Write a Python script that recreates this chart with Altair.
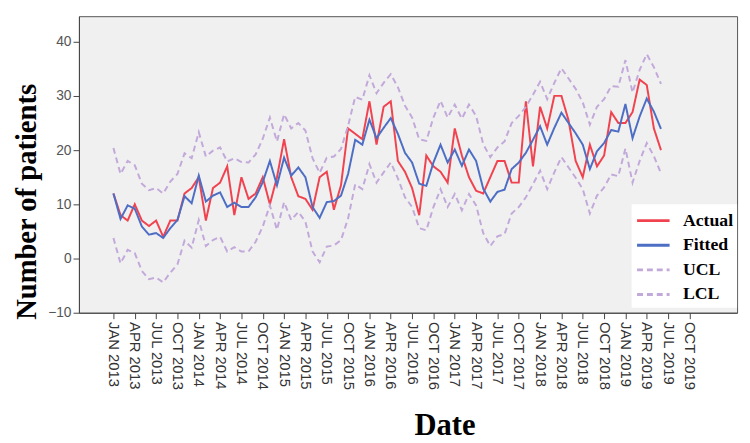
import altair as alt
import pandas as pd

# month index 0 = JAN 2013 ... 77 = JUN 2019
actual = [12, 8, 7, 10, 7, 6, 7, 4, 7, 7,
          12, 13, 15, 7, 13, 14, 17, 8, 15, 11,
          12, 15, 10, 15, 22, 15, 11.5, 11, 9, 15,
          16, 9, 13.5, 24, 23, 22, 29, 21, 28, 29,
          18, 16, 13, 8, 19, 17, 16, 14, 24, 19,
          15, 12.5, 12, 15, 18, 18, 14, 14, 29, 17,
          28, 24, 30, 30, 25.5, 18, 15, 21, 17, 19,
          27, 25, 25, 27, 33, 32, 24, 20]
fitted = [12, 7.3, 9.8, 9.2, 5.9, 4.4, 4.7, 3.8, 5.6, 7.1,
          11.5, 10.2, 15.3, 10.5, 11.6, 12.2, 9.5, 10.3, 9.5, 9.5,
          11.3, 14.1, 18, 13.5, 18.6, 15.3, 16.8, 15, 9.5, 7.5,
          10.4, 10.6, 11.6, 15.6, 21.9, 21, 25.6, 22.2, 24.1, 25.9,
          23, 19.5, 17.7, 13.8, 13.4, 17.7, 21, 17.7, 20.1, 17.1,
          20.1, 18, 12.9, 10.5, 12.3, 12.7, 16.5, 17.7, 19.5, 21.9,
          24.4, 21, 24.1, 26.9, 25, 23.1, 21, 16.5, 19.8, 21.3,
          23.7, 23.4, 28.5, 22.2, 26.2, 29.5, 27.1, 23.9]
ucl = [20.4, 15.6, 18.0, 17.2, 13.8, 12.6, 13.0, 12.0, 14.2, 15.6,
       19.4, 18.5, 23.3, 18.8, 19.9, 20.5, 17.9, 18.5, 17.8, 17.7,
       19.2, 22.1, 26.0, 21.6, 26.6, 24.0, 25.0, 23.6, 18.5, 15.8,
       18.6, 18.8, 20.2, 24.5, 29.8, 29.3, 33.8, 30.5, 32.4, 34.0,
       31.6, 28.2, 26.0, 22.0, 21.7, 26.0, 29.1, 26.0, 28.4, 25.8,
       28.4, 26.3, 21.1, 18.7, 20.5, 21.6, 25.0, 26.3, 28.0, 30.2,
       32.6, 29.4, 32.4, 35.1, 33.2, 31.3, 28.8, 24.7, 28.0, 29.4,
       31.8, 31.7, 36.6, 30.6, 34.8, 37.7, 35.3, 32.2]
lcl = [3.8, -0.9, 1.6, 1.0, -2.3, -3.8, -3.5, -4.4, -2.6, -1.1,
       3.3, 2.0, 7.1, 2.3, 3.4, 4.0, 1.3, 2.1, 1.3, 1.3,
       3.1, 5.9, 9.8, 5.3, 10.4, 7.1, 8.6, 6.8, 1.3, -0.7,
       2.2, 2.4, 3.4, 7.4, 13.7, 12.8, 17.4, 14.0, 15.9, 17.7,
       14.8, 11.3, 9.5, 5.6, 5.2, 9.5, 12.8, 9.5, 11.9, 8.9,
       11.9, 9.8, 4.7, 2.3, 4.1, 4.5, 8.3, 9.5, 11.3, 13.7,
       16.2, 12.8, 15.9, 18.7, 16.8, 14.9, 12.8, 8.3, 11.6, 13.1,
       15.5, 15.2, 20.3, 14.0, 18.0, 21.3, 18.9, 15.7]

tick_labels = ["JAN 2013", "APR 2013", "JUL 2013", "OCT 2013",
               "JAN 2014", "APR 2014", "JUL 2014", "OCT 2014",
               "JAN 2015", "APR 2015", "JUL 2015", "OCT 2015",
               "JAN 2016", "APR 2016", "JUL 2016", "OCT 2016",
               "JAN 2017", "APR 2017", "JUL 2017", "OCT 2017",
               "JAN 2018", "APR 2018", "JUL 2018", "OCT 2018",
               "JAN 2019", "APR 2019", "JUL 2019", "OCT 2019"]
series_names = ["Actual", "Fitted", "UCL", "LCL"]
series_colors = ["#f0434f", "#4d6ec4", "#c2a9da", "#c2a9da"]

rows = []
for name, vals in zip(series_names, [actual, fitted, ucl, lcl]):
    for i, v in enumerate(vals):
        rows.append({"month": i, "value": v, "series": name})
df = pd.DataFrame(rows)

tick_vals = [3 * k for k in range(len(tick_labels))]
label_expr = "[" + ",".join("'" + t + "'" for t in tick_labels) + "][datum.value / 3]"

chart = alt.Chart(df).mark_line(strokeWidth=2).encode(
    x=alt.X("month:Q",
            scale=alt.Scale(domain=[-4.85, 87.7], nice=False, zero=False),
            axis=alt.Axis(values=tick_vals, labelExpr=label_expr, labelAngle=90,
                          labelAlign="left", labelBaseline="middle",
                          labelFont="Liberation Sans", labelFontSize=15,
                          labelColor="#333333", labelPadding=3,
                          tickSize=6, tickColor="#444444", domainColor="#444444",
                          grid=False, title="Date", titleFont="Liberation Serif",
                          titleFontSize=31, titleFontWeight="bold", titleColor="#000000",
                          titleX=371, titleY=124, titleBaseline="alphabetic")),
    y=alt.Y("value:Q",
            scale=alt.Scale(domain=[-10, 44.7], nice=False, zero=False),
            axis=alt.Axis(values=[-10, 0, 10, 20, 30, 40], labelFont="Liberation Sans",
                          labelFontSize=14, labelColor="#555555", labelPadding=2,
                          tickSize=6, tickColor="#444444", domainColor="#444444",
                          grid=False, title="Number of patients",
                          titleFont="Liberation Serif", titleFontSize=29,
                          titleFontWeight="bold", titleColor="#000000",
                          titleX=-44, titleY=188, titleBaseline="alphabetic")),
    color=alt.Color("series:N",
                    scale=alt.Scale(domain=series_names, range=series_colors),
                    sort=series_names,
                    legend=alt.Legend(title=None, orient="none", legendX=561, legendY=191,
                                      fillColor="#ffffff", padding=4,
                                      symbolType="M-1,0H2", symbolSize=484,
                                      symbolStrokeWidth=3,
                                      labelFont="Liberation Serif", labelFontSize=18,
                                      labelFontWeight="bold", labelColor="#000000",
                                      labelOffset=23, rowPadding=3)),
    strokeDash=alt.StrokeDash("series:N",
                              scale=alt.Scale(domain=series_names,
                                              range=[[1, 0], [1, 0], [6, 4], [6, 4]]),
                              sort=series_names, legend=None),
    detail="series:N",
).properties(
    width=668, height=301, background="#ffffff",
).configure_view(
    fill="#f0f0f0", stroke="#555555", strokeWidth=1,
)

chart.save("out.html", embed_options={"renderer": "svg", "actions": False})
